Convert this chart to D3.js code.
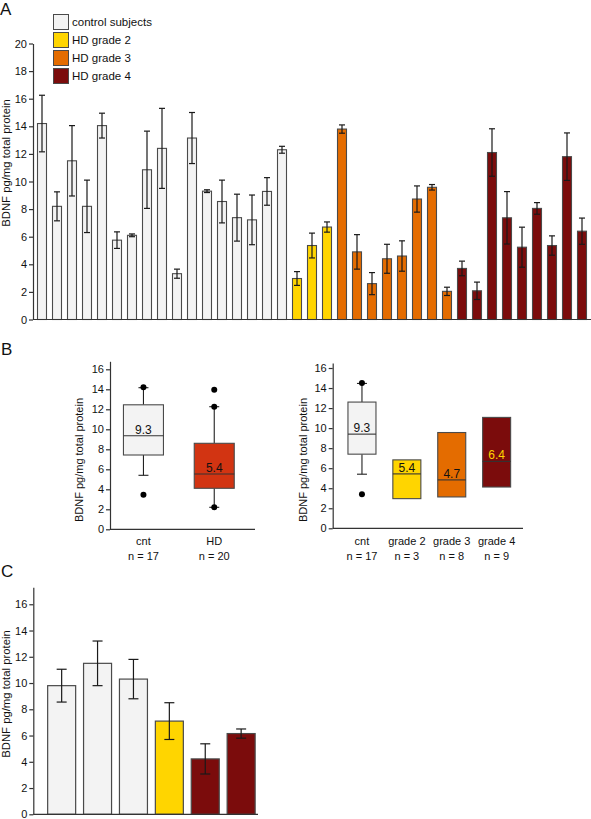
<!DOCTYPE html>
<html><head><meta charset="utf-8">
<script src="https://cdn.jsdelivr.net/npm/d3@7"></script>
<style>
body{margin:0;background:#fff;}
text{font-family:"Liberation Sans",Arial,sans-serif;fill:#111;}
</style></head>
<body>
<script>
// ---------- DATA ----------
const groupNames = ["control subjects", "HD grade 2", "HD grade 3", "HD grade 4"];
const ctrlMeans = [14.2, 8.2, 11.5, 8.2, 14.05, 5.75, 6.1, 10.85, 12.4, 3.32, 13.15, 9.3, 8.55, 7.38, 7.22, 9.28, 12.3];
const ctrlErr   = [2.05, 1.05, 2.55, 1.9, 0.9, 0.6, 0.1, 2.8, 2.9, 0.33, 1.85, 0.1, 1.55, 1.7, 1.8, 1.0, 0.25];
const g2Means = [2.97, 5.36, 6.7];
const g2Err   = [0.5, 0.9, 0.37];
const g3Means = [13.8, 4.9, 2.6, 4.4, 4.6, 8.73, 9.58, 2.04];
const g3Err   = [0.3, 1.25, 0.8, 1.05, 1.1, 0.95, 0.2, 0.3];
const g4Means = [3.7, 2.08, 12.1, 7.37, 5.24, 8.05, 5.36, 11.8, 6.4];
const g4Err   = [0.53, 0.63, 1.72, 1.9, 1.45, 0.42, 0.7, 1.72, 0.95];
const ticksA = [0, 2, 4, 6, 8, 10, 12, 14, 16, 18, 20];

// Panel B left
const bLeftCats = ["cnt", "HD"];
const bLeftN = [17, 20];
const bLeftQ1 = [7.43, 4.1];
const bLeftMed = [9.36, 5.53];
const bLeftQ3 = [12.45, 8.6];
const bLeftWLo = [5.4, 2.2];
const bLeftWHi = [14.16, 12.26];
const bLeftOut = [[3.46, 14.2], [13.96, 12.26, 2.2]];
const bLeftLabels = ["9.3", "5.4"];
// Panel B right
const bRightCats = ["cnt", "grade 2", "grade 3", "grade 4"];
const bRightN = [17, 3, 8, 9];
const bRightQ1 = [7.4, 2.96, 3.13, 4.12];
const bRightMed = [9.4, 5.43, 4.83, 6.68];
const bRightQ3 = [12.6, 6.83, 9.56, 11.07];
const bRightWLo = [5.4, null, null, null];
const bRightWHi = [14.46, null, null, null];
const bRightOut = [[3.4, 14.5], [], [], []];
const bRightLabels = ["9.3", "5.4", "4.7", "6.4"];
const ticksB = [0, 2, 4, 6, 8, 10, 12, 14, 16];

// Panel C
const cValues = [9.8, 11.5, 10.3, 7.1, 4.22, 6.15];
const cErr = [1.25, 1.7, 1.5, 1.4, 1.15, 0.35];
const cGroup = [0, 0, 0, 1, 3, 3];
const ticksC = [0, 2, 4, 6, 8, 10, 12, 14, 16];

// ---------- STYLE ----------
const groupColors = ["#f3f3f3", "#ffd500", "#e46c00", "#7b0c0c"];
const hdColor = "#d23412";
const strokeCol = "#4a4a4a";
const yLabel = "BDNF pg/mg total protein";

const svg = d3.select("body").append("svg").attr("width", 591).attr("height", 819);

function yAxis(scale, ticks, x, fs) {
  const g = svg.append("g").attr("transform", `translate(${x},0)`)
    .call(d3.axisLeft(scale).tickValues(ticks).tickSize(4).tickSizeOuter(0).tickPadding(2));
  g.selectAll("path,line").attr("stroke", "#333").attr("stroke-width", 1.2);
  g.selectAll("text").style("font-size", fs + "px").style("font-family", "'Liberation Sans',Arial,sans-serif").attr("fill", "#111");
  return g;
}
function hLine(x1, x2, y) {
  svg.append("line").attr("x1", x1).attr("x2", x2).attr("y1", y).attr("y2", y)
    .attr("stroke", "#333").attr("stroke-width", 1.2);
}
function rotLabel(x, y, fs) {
  svg.append("text").attr("transform", `translate(${x},${y}) rotate(-90)`)
    .attr("text-anchor", "middle").style("font-size", fs + "px").text(yLabel);
}
function panelLetter(t, x, y) {
  svg.append("text").attr("x", x).attr("y", y).style("font-size", "17px").text(t);
}

// ---------- PANEL A ----------
const aMeans = [].concat(ctrlMeans, g2Means, g3Means, g4Means);
const aErr = [].concat(ctrlErr, g2Err, g3Err, g4Err);
const aGroup = [].concat(ctrlMeans.map(() => 0), g2Means.map(() => 1), g3Means.map(() => 2), g4Means.map(() => 3));
const aIdx = aMeans.map((d, i) => i);
const xA = d3.scaleBand().domain(aIdx).range([33, 591]).paddingInner(0.4).paddingOuter(0.3);
const yA = d3.scaleLinear().domain([0, 20]).range([319.5, 43.5]);

panelLetter("A", 0, 15);
svg.append("g").selectAll("rect").data(aIdx).join("rect")
  .attr("x", i => xA(i)).attr("width", xA.bandwidth())
  .attr("y", i => yA(aMeans[i])).attr("height", i => yA(0) - yA(aMeans[i]))
  .attr("fill", i => groupColors[aGroup[i]]).attr("stroke", strokeCol).attr("stroke-width", 1.1);
const eA = svg.append("g").attr("stroke", "#1a1a1a").attr("stroke-width", 1.2);
aIdx.forEach(i => {
  const cx = xA(i) + xA.bandwidth() / 2, hi = yA(aMeans[i] + aErr[i]), lo = yA(aMeans[i] - aErr[i]);
  eA.append("line").attr("x1", cx).attr("x2", cx).attr("y1", hi).attr("y2", lo);
  eA.append("line").attr("x1", cx - 3).attr("x2", cx + 3).attr("y1", hi).attr("y2", hi);
  eA.append("line").attr("x1", cx - 3).attr("x2", cx + 3).attr("y1", lo).attr("y2", lo);
});
yAxis(yA, ticksA, 33, 11);
hLine(33, 591, 319.5);
rotLabel(10, 163, 11.3);
// legend
const leg = svg.append("g");
groupNames.forEach((n, i) => {
  leg.append("rect").attr("x", 53.5).attr("y", 14.5 + i * 18).attr("width", 15).attr("height", 15)
    .attr("fill", groupColors[i]).attr("stroke", strokeCol).attr("stroke-width", 1);
  leg.append("text").attr("x", 72).attr("y", 26 + i * 18).style("font-size", "11.5px").text(n);
});

// ---------- PANEL B ----------
panelLetter("B", 1, 355);
function boxPanel(cats, n, q1, med, q3, wlo, whi, outs, labels, colors, axisX, yScale, xScale, xEnd, labelX) {
  yAxis(yScale, ticksB, axisX, 11);
  hLine(axisX, xEnd, yScale(0));
  rotLabel(labelX, 460, 11);
  const bw = xScale.bandwidth();
  cats.forEach((c, i) => {
    const x0 = xScale(c), cx = x0 + bw / 2;
    if (whi[i] != null) {
      svg.append("line").attr("x1", cx).attr("x2", cx).attr("y1", yScale(whi[i])).attr("y2", yScale(q3[i])).attr("stroke", "#222").attr("stroke-width", 1.1);
      svg.append("line").attr("x1", cx).attr("x2", cx).attr("y1", yScale(q1[i])).attr("y2", yScale(wlo[i])).attr("stroke", "#222").attr("stroke-width", 1.1);
      [whi[i], wlo[i]].forEach(v => svg.append("line").attr("x1", cx - 5).attr("x2", cx + 5).attr("y1", yScale(v)).attr("y2", yScale(v)).attr("stroke", "#222").attr("stroke-width", 1.1));
    }
    svg.append("rect").attr("x", x0).attr("width", bw).attr("y", yScale(q3[i])).attr("height", yScale(q1[i]) - yScale(q3[i]))
      .attr("fill", colors[i]).attr("stroke", strokeCol).attr("stroke-width", 1.1);
    svg.append("line").attr("x1", x0).attr("x2", x0 + bw).attr("y1", yScale(med[i])).attr("y2", yScale(med[i])).attr("stroke", "#333").attr("stroke-width", 1.1);
    svg.append("text").attr("x", cx).attr("y", yScale(med[i]) - 2).attr("text-anchor", "middle").style("font-size", "12px")
      .style("fill", colors[i] === groupColors[3] ? "#ffd500" : "#111").text(labels[i]);
    outs[i].forEach(v => svg.append("circle").attr("cx", cx).attr("cy", yScale(v)).attr("r", 3).attr("fill", "#000"));
    svg.append("text").attr("x", cx).attr("y", 545).attr("text-anchor", "middle").style("font-size", "11px").text(c);
    svg.append("text").attr("x", cx).attr("y", 560).attr("text-anchor", "middle").style("font-size", "11px").text("n = " + n[i]);
  });
}
const yBL = d3.scaleLinear().domain([0, 16.8]).range([529.3, 361.3]);
const xBL = d3.scaleBand().domain(bLeftCats).range([110, 247.7]).paddingInner(0.435).paddingOuter(0.19);
boxPanel(bLeftCats, bLeftN, bLeftQ1, bLeftMed, bLeftQ3, bLeftWLo, bLeftWHi, bLeftOut, bLeftLabels,
  [groupColors[0], hdColor], 110, yBL, xBL, 255, 83);
const yBR = d3.scaleLinear().domain([0, 16.5]).range([528.3, 363]);
const xBR = d3.scaleBand().domain(bRightCats).range([332.7, 525.9]).paddingInner(0.376).paddingOuter(0.34);
boxPanel(bRightCats, bRightN, bRightQ1, bRightMed, bRightQ3, bRightWLo, bRightWHi, bRightOut, bRightLabels,
  [groupColors[0], groupColors[1], groupColors[2], groupColors[3]], 332.7, yBR, xBR, 523, 306.5);

// ---------- PANEL C ----------
panelLetter("C", 1, 577);
const cIdx = cValues.map((d, i) => i);
const yC = d3.scaleLinear().domain([0, 17.3]).range([814.3, 587.2]);
const xC = d3.scaleBand().domain(cIdx).range([33.3, 269.5]).paddingInner(0.22).paddingOuter(0.4);
svg.append("g").selectAll("rect").data(cIdx).join("rect")
  .attr("x", i => xC(i)).attr("width", xC.bandwidth())
  .attr("y", i => yC(cValues[i])).attr("height", i => yC(0) - yC(cValues[i]))
  .attr("fill", i => groupColors[cGroup[i]]).attr("stroke", strokeCol).attr("stroke-width", 1.2);
const eC = svg.append("g").attr("stroke", "#1a1a1a").attr("stroke-width", 1.2);
cIdx.forEach(i => {
  const cx = xC(i) + xC.bandwidth() / 2, hi = yC(cValues[i] + cErr[i]), lo = yC(cValues[i] - cErr[i]);
  eC.append("line").attr("x1", cx).attr("x2", cx).attr("y1", hi).attr("y2", lo);
  eC.append("line").attr("x1", cx - 5).attr("x2", cx + 5).attr("y1", hi).attr("y2", hi);
  eC.append("line").attr("x1", cx - 5).attr("x2", cx + 5).attr("y1", lo).attr("y2", lo);
});
yAxis(yC, ticksC, 33.3, 11);
hLine(33.3, 258, 814.3);
rotLabel(10, 694, 11.3);
</script>
</body></html>
